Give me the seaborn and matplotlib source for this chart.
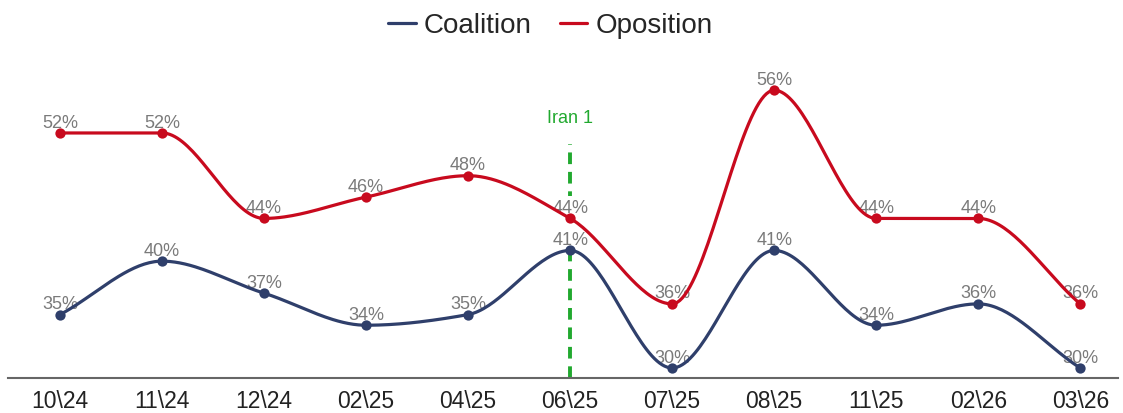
import numpy as np
import pandas as pd
import matplotlib
matplotlib.use("Agg")
import matplotlib.pyplot as plt
import seaborn as sns

# ── Data ───────────────────────────────────────────────────────────────────────
months     = ["10\\24", "11\\24", "12\\24", "02\\25", "04\\25", "06\\25",
              "07\\25", "08\\25", "11\\25", "02\\26", "03\\26"]
coalition  = [35, 40, 37, 34, 35, 41, 30, 41, 34, 36, 30]
opposition = [52, 52, 44, 46, 48, 44, 36, 56, 44, 44, 36]
event_month = "06\\25"
event_label = "Iran 1"

NAVY  = "#2f3f6b"
RED   = "#c80a1e"
GREEN = "#21a92f"
GRAY  = "#7a7a7a"


def monotone_curve(y, n=40):
    """Monotone cubic (Fritsch-Carlson) through equally spaced points."""
    y = np.asarray(y, dtype=float)
    x = np.arange(len(y), dtype=float)
    d = np.diff(y)
    m = np.zeros_like(y)
    m[0], m[-1] = d[0], d[-1]
    for i in range(1, len(y) - 1):
        if d[i - 1] * d[i] <= 0:
            m[i] = 0.0
        else:
            m[i] = 2.0 / (1.0 / d[i - 1] + 1.0 / d[i])
    xs, ys = [], []
    for i in range(len(y) - 1):
        t = np.linspace(0, 1, n, endpoint=(i == len(y) - 2))
        h00 = 2 * t**3 - 3 * t**2 + 1
        h10 = t**3 - 2 * t**2 + t
        h01 = -2 * t**3 + 3 * t**2
        h11 = t**3 - t**2
        xs.append(x[i] + t)
        ys.append(h00 * y[i] + h10 * m[i] + h01 * y[i + 1] + h11 * m[i + 1])
    return np.concatenate(xs), np.concatenate(ys)


sns.set_theme(style="white")
plt.rcParams["font.family"] = ["Liberation Sans", "DejaVu Sans"]

fig = plt.figure(figsize=(11.23, 4.13), dpi=100)
ax = fig.add_axes([8 / 1123, 35 / 413, 1110 / 1123, 323 / 413])

ex = months.index(event_month)

for name, vals, color in [("Coalition", coalition, NAVY), ("Oposition", opposition, RED)]:
    cx, cy = monotone_curve(vals)
    sns.lineplot(x=cx, y=cy, color=color, linewidth=2.3, ax=ax, label=name, zorder=3)
    pts = pd.DataFrame({"x": np.arange(len(vals)), "y": vals})
    sns.scatterplot(data=pts, x="x", y="y", color=color, s=55, edgecolor=color,
                    linewidth=0, ax=ax, zorder=4)
    for xi, v in zip(pts["x"], pts["y"]):
        # labels on the event column mask the dashed line behind them
        box = dict(facecolor="white", edgecolor="none", pad=3) if xi == ex else None
        ax.annotate(f"{v}%", (xi, v), xytext=(0, 1), textcoords="offset points",
                    ha="center", va="bottom", fontsize=13, color=GRAY, zorder=2,
                    bbox=box)

# event marker
ax.plot([ex, ex], [29.06, 51.0], color=GREEN, linewidth=2.8,
        linestyle=(0, (3.0, 2.0)), zorder=1)
ax.text(ex, 53.4, event_label, ha="center", va="center", fontsize=13, color=GREEN)

ax.set_xlim(-0.51, 10.37)
ax.set_ylim(29.06, 59.3)
ax.set_xticks(range(len(months)))
ax.set_xticklabels(months, fontsize=16.5, color="#222222")
ax.tick_params(axis="x", length=0, pad=9)
ax.set_yticks([])
ax.set_xlabel("")
ax.set_ylabel("")
for side in ["top", "left", "right"]:
    ax.spines[side].set_visible(False)
ax.spines["bottom"].set_color("#666666")
ax.spines["bottom"].set_linewidth(1.5)

ax.legend_.remove()
handles, labels = ax.get_legend_handles_labels()
fig.legend(handles, labels, loc="center", bbox_to_anchor=(0.49, 1 - 26 / 413),
           ncol=2, frameon=False, fontsize=20, handlelength=1.0,
           handletextpad=0.3, columnspacing=1.0)

fig.savefig("out.png", dpi=100)
